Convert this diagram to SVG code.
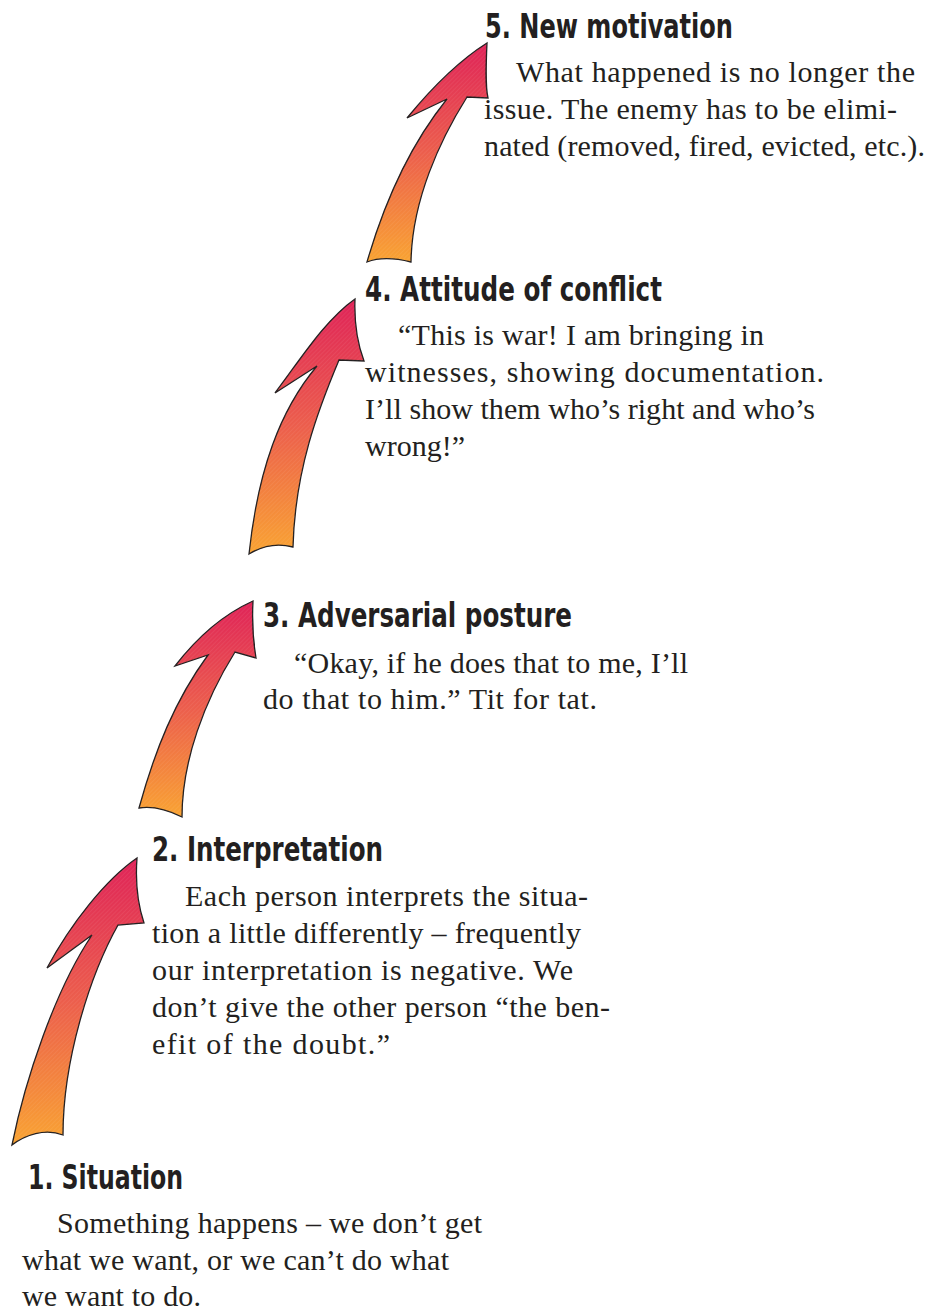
<svg xmlns="http://www.w3.org/2000/svg" width="940" height="1310" viewBox="0 0 940 1310">
<defs>
<linearGradient id="grad" x1="0" y1="0" x2="0" y2="1">
<stop offset="0" stop-color="#DF2358"/>
<stop offset="0.5" stop-color="#EC5E4C"/>
<stop offset="1" stop-color="#F9A332"/>
</linearGradient>
<pattern id="hatch" width="3" height="3" patternUnits="userSpaceOnUse" patternTransform="rotate(45)">
<line x1="0" y1="0" x2="0" y2="3" stroke="#ffffff" stroke-opacity="0.12" stroke-width="1"/>
</pattern>
</defs>
<style>
.arrow{fill:url(#grad);stroke:#231f20;stroke-width:1.3;stroke-linejoin:miter}
.tex{fill:url(#hatch);stroke:none}
.head{font-family:"DejaVu Sans Condensed","DejaVu Sans",sans-serif;font-stretch:condensed;font-weight:bold;font-size:33px;fill:#231f20}
.body{font-family:"Liberation Serif","Times New Roman",serif;font-size:30px;fill:#231f20}
</style>
<rect width="940" height="1310" fill="#ffffff"/>
<g id="connectors">
<g id="arrow1">
<path class="arrow" d="M137,858 C135,885 138,905 144,923 L118,925 C90,975 63,1060 63,1135 C45,1128 25,1135 12,1145 C25,1080 55,990 92,935 L47,968 C70,925 105,880 137,858 Z"/>
<path class="tex" d="M137,858 C135,885 138,905 144,923 L118,925 C90,975 63,1060 63,1135 C45,1128 25,1135 12,1145 C25,1080 55,990 92,935 L47,968 C70,925 105,880 137,858 Z"/>
</g>
<g id="arrow2">
<path class="arrow" d="M253,601 C252,620 253,640 256,658 L235,652 C205,700 182,760 182,817 C168,810 152,806 139,808 C155,750 175,700 208,655 L175,666 C195,640 222,615 253,601 Z"/>
<path class="tex" d="M253,601 C252,620 253,640 256,658 L235,652 C205,700 182,760 182,817 C168,810 152,806 139,808 C155,750 175,700 208,655 L175,666 C195,640 222,615 253,601 Z"/>
</g>
<g id="arrow3">
<path class="arrow" d="M355,299 C354,325 358,345 364,361 L339,360 C318,410 295,470 293,547 C278,543 262,546 249,554 C258,470 280,410 317,366 L275,393 C300,360 325,320 355,299 Z"/>
<path class="tex" d="M355,299 C354,325 358,345 364,361 L339,360 C318,410 295,470 293,547 C278,543 262,546 249,554 C258,470 280,410 317,366 L275,393 C300,360 325,320 355,299 Z"/>
</g>
<g id="arrow4">
<path class="arrow" d="M487,43 C486,65 485,85 488,98 L467,97 C440,140 412,200 411,262 C395,258 380,257 367,262 C385,200 410,145 447,99 L407,118 C430,90 460,60 487,43 Z"/>
<path class="tex" d="M487,43 C486,65 485,85 488,98 L467,97 C440,140 412,200 411,262 C395,258 380,257 367,262 C385,200 410,145 447,99 L407,118 C430,90 460,60 487,43 Z"/>
</g>
</g>
<g id="node5">
<text class="head" x="485" y="38" textLength="248" lengthAdjust="spacingAndGlyphs">5. New motivation</text>
<text class="body" x="516" y="82" textLength="399" lengthAdjust="spacing">What happened is no longer the</text>
<text class="body" x="484" y="119" textLength="413" lengthAdjust="spacing">issue. The enemy has to be elimi-</text>
<text class="body" x="484" y="156" textLength="441" lengthAdjust="spacing">nated (removed, fired, evicted, etc.).</text>
</g>
<g id="node4">
<text class="head" x="365" y="301" textLength="297" lengthAdjust="spacingAndGlyphs">4. Attitude of conflict</text>
<text class="body" x="398" y="345" textLength="366" lengthAdjust="spacing">“This is war! I am bringing in</text>
<text class="body" x="365" y="382" textLength="459" lengthAdjust="spacing">witnesses, showing documentation.</text>
<text class="body" x="365" y="419" textLength="450" lengthAdjust="spacing">I’ll show them who’s right and who’s</text>
<text class="body" x="365" y="456">wrong!”</text>
</g>
<g id="node3">
<text class="head" x="263" y="627" textLength="309" lengthAdjust="spacingAndGlyphs">3. Adversarial posture</text>
<text class="body" x="294" y="673" textLength="394" lengthAdjust="spacing">“Okay, if he does that to me, I’ll</text>
<text class="body" x="263" y="709" textLength="334" lengthAdjust="spacing">do that to him.” Tit for tat.</text>
</g>
<g id="node2">
<text class="head" x="152" y="861" textLength="231" lengthAdjust="spacingAndGlyphs">2. Interpretation</text>
<text class="body" x="185" y="906" textLength="403" lengthAdjust="spacing">Each person interprets the situa-</text>
<text class="body" x="152" y="943" textLength="429" lengthAdjust="spacing">tion a little differently – frequently</text>
<text class="body" x="152" y="980" textLength="421" lengthAdjust="spacing">our interpretation is negative. We</text>
<text class="body" x="152" y="1017" textLength="458" lengthAdjust="spacing">don’t give the other person “the ben-</text>
<text class="body" x="152" y="1054" textLength="238" lengthAdjust="spacing">efit of the doubt.”</text>
</g>
<g id="node1">
<text class="head" x="28" y="1189" textLength="155" lengthAdjust="spacingAndGlyphs">1. Situation</text>
<text class="body" x="57" y="1233" textLength="425" lengthAdjust="spacing">Something happens – we don’t get</text>
<text class="body" x="22" y="1270" textLength="427" lengthAdjust="spacing">what we want, or we can’t do what</text>
<text class="body" x="22" y="1306" textLength="179" lengthAdjust="spacing">we want to do.</text>
</g>
</svg>
